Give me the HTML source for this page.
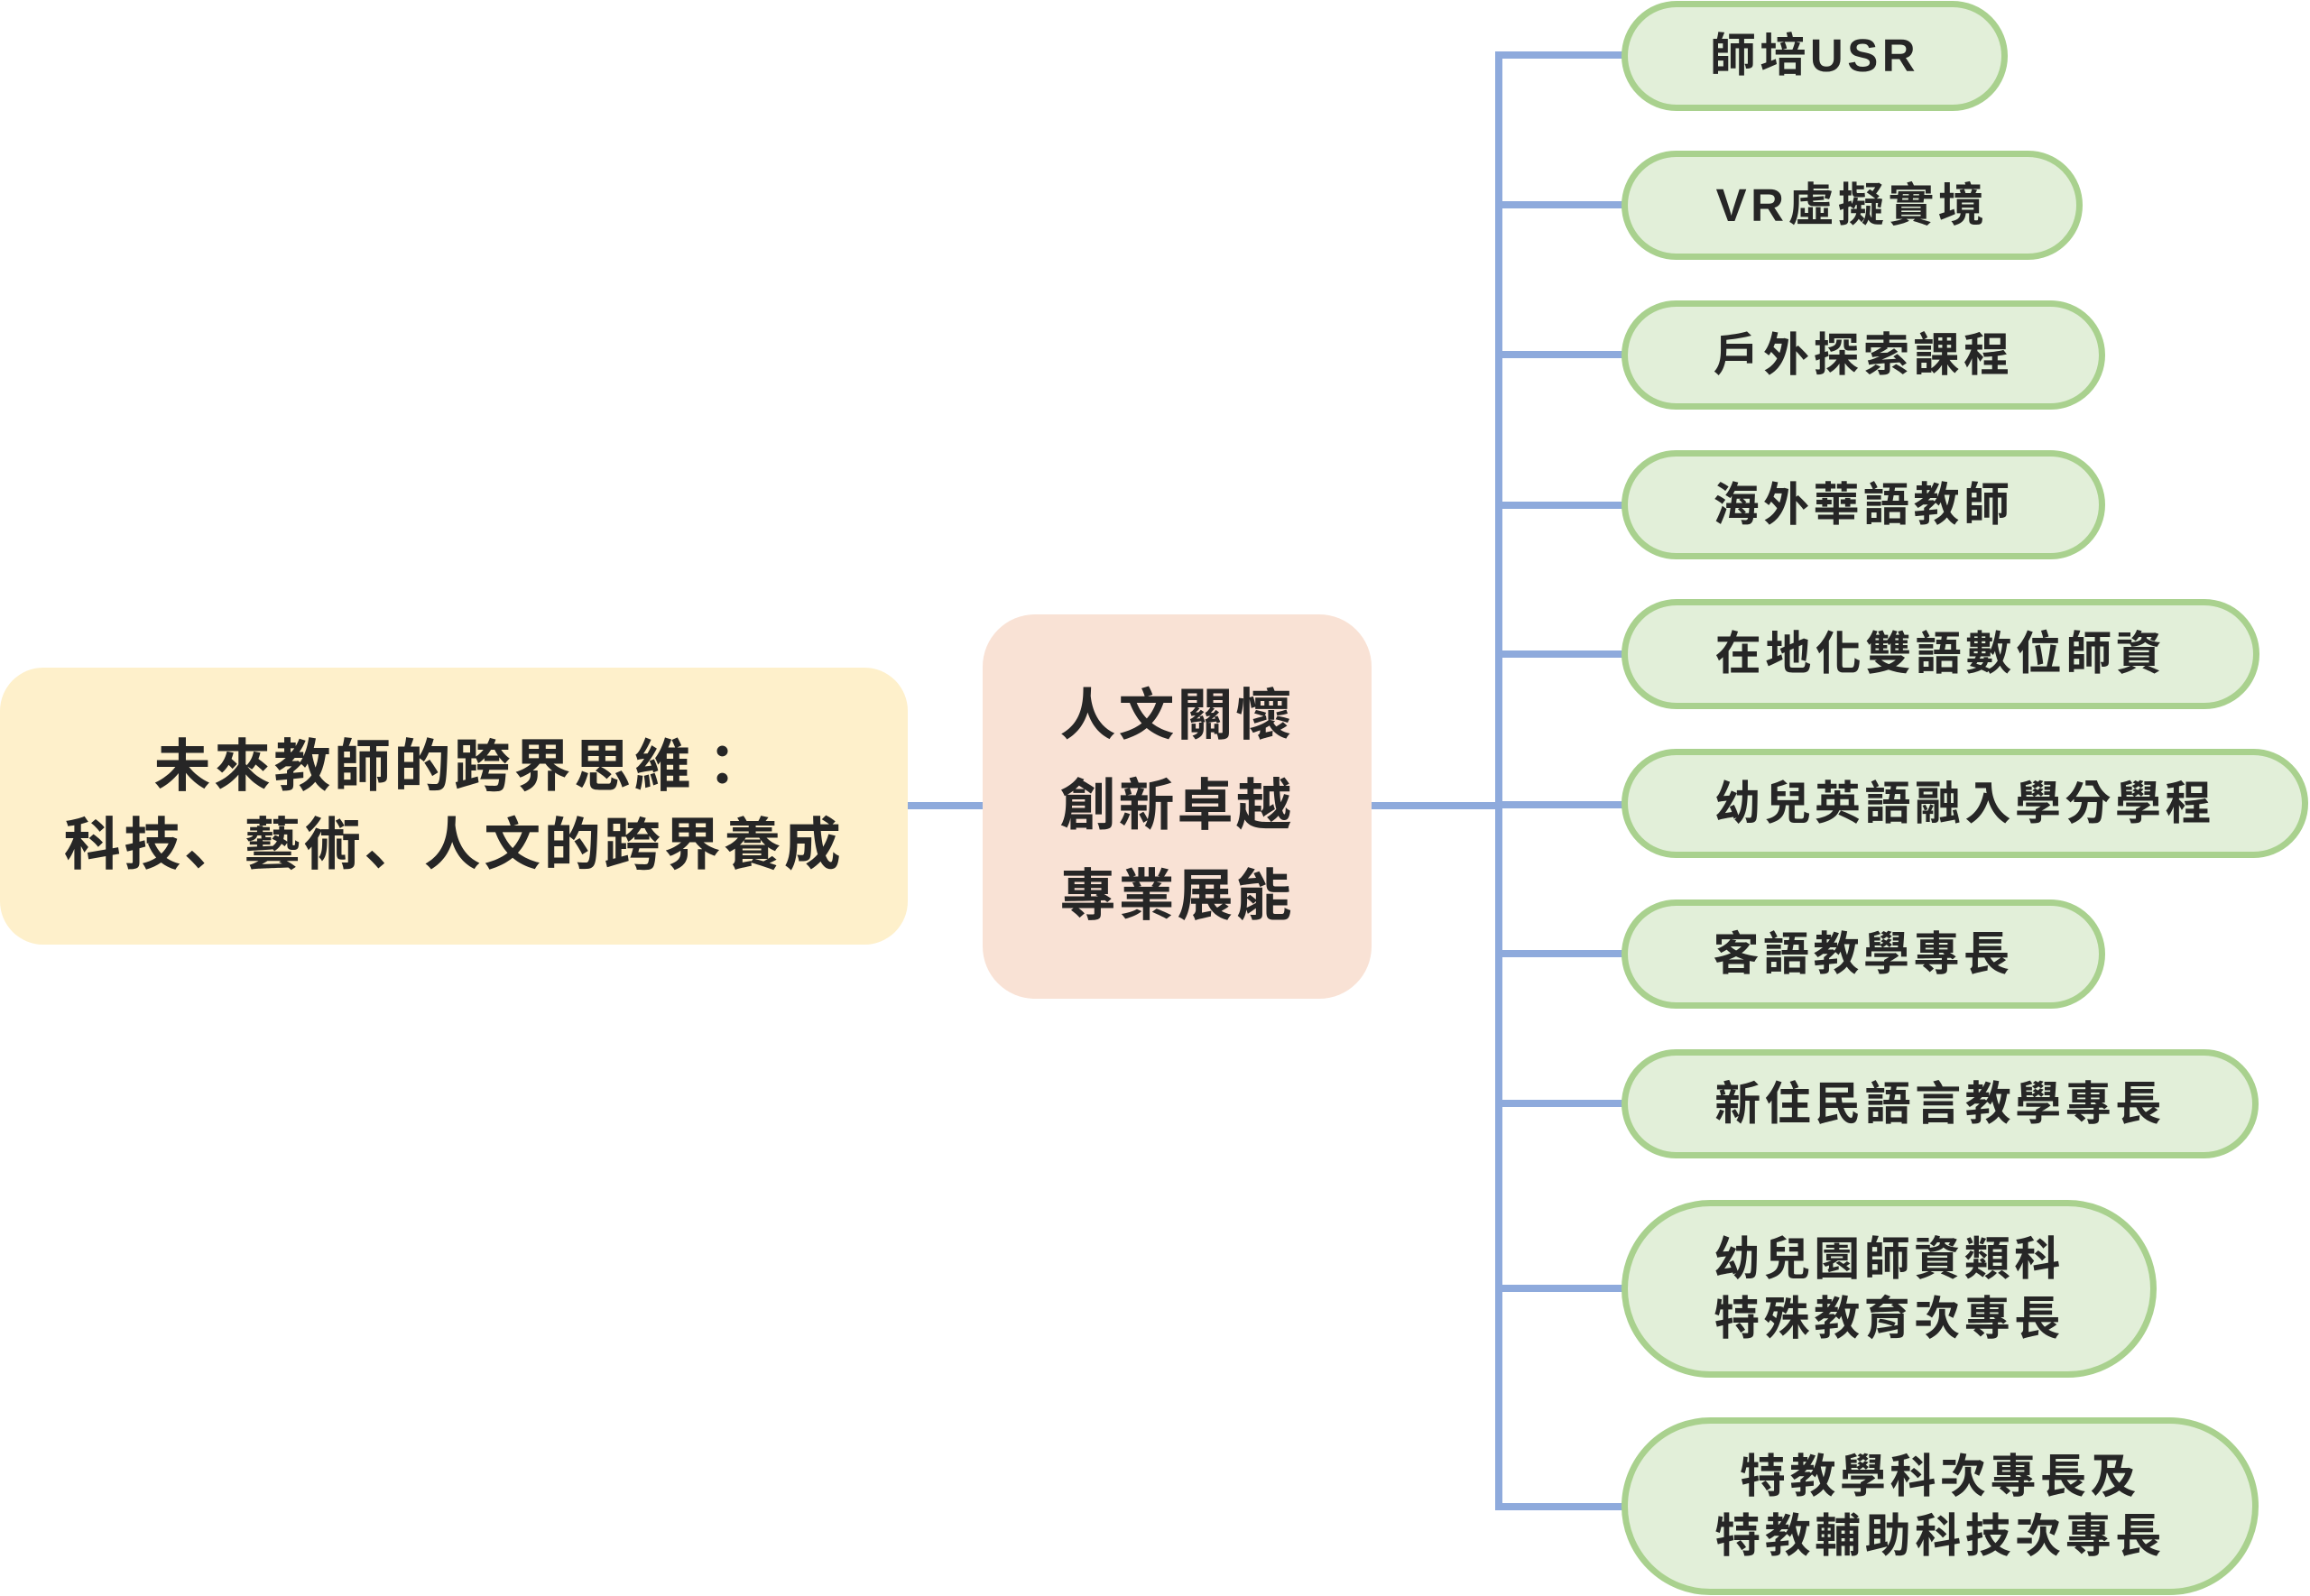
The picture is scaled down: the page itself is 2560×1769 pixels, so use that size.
<!DOCTYPE html>
<html>
<head>
<meta charset="utf-8">
<style>
  html, body { margin:0; padding:0; }
  body { width:2560px; height:1769px; background:#ffffff; position:relative; overflow:hidden;
         font-family:"Liberation Sans","Noto Sans CJK TC",sans-serif; font-weight:700; color:#262626; }
  .ln { position:absolute; background:#8eaadc; }
  .box { position:absolute; box-sizing:border-box; display:flex; align-items:center; justify-content:center; text-align:center; white-space:nowrap; }
  .g { border:7px solid #a9d18e; background:#e2efd9; border-radius:999px; font-size:51px; letter-spacing:4.5px; line-height:66px; }
  .left { left:0; top:740px; width:1006px; height:307px; background:#fef0cb; border-radius:48px; font-size:63px; letter-spacing:3.5px; line-height:87px; }
  .mid { left:1089px; top:681px; width:431px; height:426px; background:#f9e2d5; border-radius:58px; font-size:62px; letter-spacing:3px; line-height:100px; }
  .p { font-family:"Liberation Sans","Noto Sans CJK SC",sans-serif; }
</style>
</head>
<body>
  <!-- connectors -->
  <div class="ln" style="left:1004px; top:889px; width:88px; height:8px;"></div>
  <div class="ln" style="left:1518px; top:889px; width:147px; height:8px;"></div>
  <div class="ln" style="left:1657px; top:57px; width:8px; height:1617px;"></div>
  <div class="ln" style="left:1657px; top:57px; width:144px; height:8px;"></div>
  <div class="ln" style="left:1657px; top:223px; width:144px; height:8px;"></div>
  <div class="ln" style="left:1657px; top:389px; width:144px; height:8px;"></div>
  <div class="ln" style="left:1657px; top:556px; width:144px; height:8px;"></div>
  <div class="ln" style="left:1657px; top:721px; width:144px; height:8px;"></div>
  <div class="ln" style="left:1657px; top:888px; width:144px; height:8px;"></div>
  <div class="ln" style="left:1657px; top:1053px; width:144px; height:8px;"></div>
  <div class="ln" style="left:1657px; top:1219px; width:144px; height:8px;"></div>
  <div class="ln" style="left:1657px; top:1424px; width:144px; height:8px;"></div>
  <div class="ln" style="left:1657px; top:1666px; width:144px; height:8px;"></div>

  <!-- main boxes -->
  <div class="box left"><div>未來教師的跨界思維：<br>科技<span class="p">、</span>藝術<span class="p">、</span>人文的跨界養成</div></div>
  <div class="box mid"><div>人文關懷<br>創新卓越<br>專業展能</div></div>

  <!-- green boxes -->
  <div class="box g" style="left:1797px; top:1px; width:428px; height:122px;"><div>師培USR</div></div>
  <div class="box g" style="left:1797px; top:167px; width:511px; height:121px;"><div>VR虛擬實境</div></div>
  <div class="box g" style="left:1797px; top:333px; width:536px; height:121px;"><div>戶外探索課程</div></div>
  <div class="box g" style="left:1797px; top:499px; width:536px; height:121px;"><div>海外華語教師</div></div>
  <div class="box g" style="left:1797px; top:664px; width:707px; height:122px;"><div>在地化雙語數位師資</div></div>
  <div class="box g" style="left:1797px; top:830px; width:761px; height:121px;"><div>幼兒英語融入學分學程</div></div>
  <div class="box g" style="left:1797px; top:997px; width:536px; height:121px;"><div>客語教學專長</div></div>
  <div class="box g" style="left:1797px; top:1163px; width:706px; height:121px;"><div>新住民語言教學專長</div></div>
  <div class="box g" style="left:1797px; top:1330px; width:593px; height:197px;"><div>幼兒園師資類科<br>特殊教育次專長</div></div>
  <div class="box g" style="left:1797px; top:1571px; width:706px; height:197px;"><div>特教學科次專長及<br>特教輔助科技次專長</div></div>
</body>
</html>
